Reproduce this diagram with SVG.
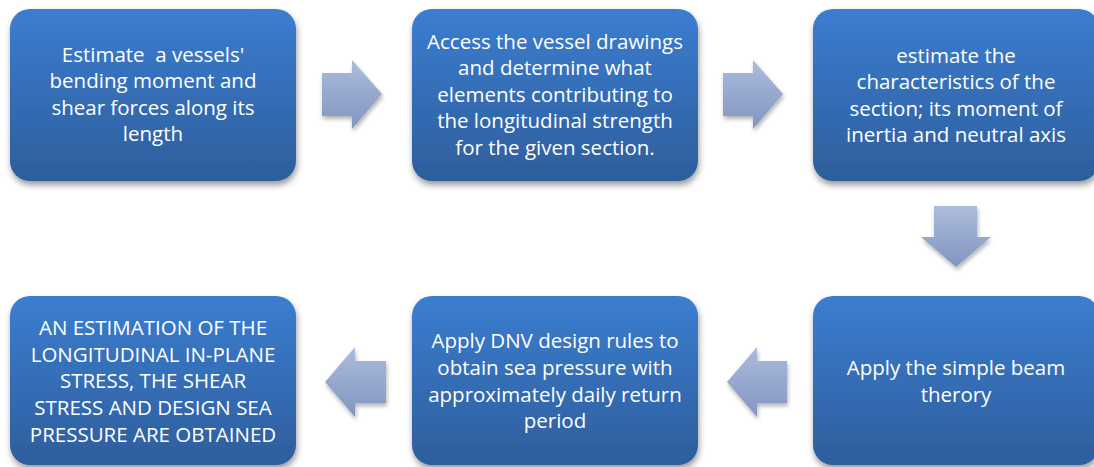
<svg xmlns="http://www.w3.org/2000/svg" width="1094" height="467" viewBox="0 0 1094 467">
<defs>
<linearGradient id="boxg" x1="0" y1="0" x2="0" y2="1">
<stop offset="0" stop-color="#3b7dd0"/>
<stop offset="1" stop-color="#2e5e9c"/>
</linearGradient>
<linearGradient id="arrg" x1="0" y1="0" x2="0" y2="1">
<stop offset="0" stop-color="#abbcdc"/>
<stop offset="1" stop-color="#8295c0"/>
</linearGradient>
<filter id="sh" x="-10%" y="-10%" width="125%" height="130%">
<feDropShadow dx="1" dy="4" stdDeviation="3" flood-color="#000" flood-opacity="0.4"/>
</filter>
<filter id="ash" x="-20%" y="-20%" width="150%" height="150%">
<feDropShadow dx="1" dy="3" stdDeviation="2" flood-color="#000" flood-opacity="0.3"/>
</filter>
</defs>
<style>
.box{fill:url(#boxg);filter:url(#sh);}
.arr{fill:url(#arrg);filter:url(#ash);}
text{font-family:"Open Sans","Liberation Sans",sans-serif;font-size:20.5px;fill:#ffffff;text-anchor:middle;white-space:pre;}
</style>
<rect width="1094" height="467" fill="#ffffff"/>
<g id="n1">
<rect class="box" x="10" y="9" width="286" height="172" rx="20"/>
<text x="153" y="62" xml:space="preserve">Estimate  a vessels'</text>
<text x="153" y="88">bending moment and</text>
<text x="153" y="115">shear forces along its</text>
<text x="153" y="141">length</text>
</g>
<g id="n2">
<rect class="box" x="412" y="9" width="286" height="172" rx="20"/>
<text x="555" y="49">Access the vessel drawings</text>
<text x="555" y="75">and determine what</text>
<text x="555" y="102">elements contributing to</text>
<text x="555" y="128">the longitudinal strength</text>
<text x="555" y="155">for the given section.</text>
</g>
<g id="n3">
<rect class="box" x="813" y="9" width="286" height="172" rx="20"/>
<text x="956" y="63">estimate the</text>
<text x="956" y="89">characteristics of the</text>
<text x="956" y="116">section; its moment of</text>
<text x="956" y="142">inertia and neutral axis</text>
</g>
<g id="n4">
<rect class="box" x="813" y="296" width="286" height="169" rx="20"/>
<text x="956" y="375">Apply the simple beam</text>
<text x="956" y="402">therory</text>
</g>
<g id="n5">
<rect class="box" x="412" y="296" width="286" height="169" rx="20"/>
<text x="555" y="348">Apply DNV design rules to</text>
<text x="555" y="375">obtain sea pressure with</text>
<text x="555" y="402">approximately daily return</text>
<text x="555" y="428">period</text>
</g>
<g id="n6">
<rect class="box" x="10" y="296" width="286" height="169" rx="20"/>
<text x="153" y="335">AN ESTIMATION OF THE</text>
<text x="153" y="362">LONGITUDINAL IN-PLANE</text>
<text x="153" y="388">STRESS, THE SHEAR</text>
<text x="153" y="415">STRESS AND DESIGN SEA</text>
<text x="153" y="442">PRESSURE ARE OBTAINED</text>
</g>
<g id="connectors">
<polygon class="arr" points="322,73 352,73 352,60 382,94 352,129 352,116 322,116"/>
<polygon class="arr" points="723,73 753,73 753,60 783,94 753,129 753,116 723,116"/>
<polygon class="arr" points="934,206 977,206 977,237 991,237 956,267 921,237 934,237"/>
<polygon class="arr" points="787,361 757,361 757,347 727,382 757,417 757,403 787,403"/>
<polygon class="arr" points="386,361 355,361 355,347 325,382 355,417 355,403 386,403"/>
</g>
</svg>
